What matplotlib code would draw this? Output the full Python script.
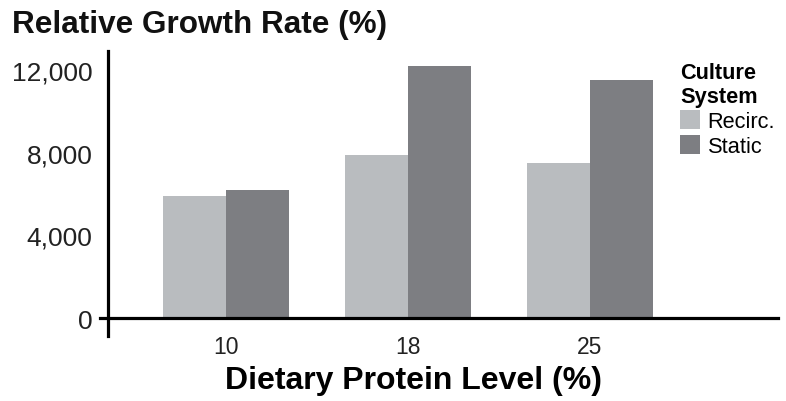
"""
Relative growth rate by dietary protein level and culture system.
"""

import matplotlib
matplotlib.use('Agg')
import matplotlib.pyplot as plt
from matplotlib.ticker import FuncFormatter

protein_levels = ['10', '18', '25']
recirc_values = [5900, 7900, 7500]
static_values = [6200, 12200, 11500]
y_ticks = [0, 4000, 8000, 12000]

plt.rcParams['font.family'] = ['Liberation Sans', 'DejaVu Sans']

fig = plt.figure(figsize=(7.86, 4.02), dpi=100)
ax = fig.add_axes([100 / 786, 0.1617, 678 / 786, 0.709])

pos = list(range(len(protein_levels)))
width = 0.347
bars_r = ax.bar([p - width / 2 for p in pos], recirc_values, width,
                color='#b9bcbf', label='Recirc.')
bars_s = ax.bar([p + width / 2 for p in pos], static_values, width,
                color='#7d7e82', label='Static')

ax.set_xlim(-0.692, 3.033)
ax.set_ylim(-870, 12920)

for side in ['top', 'right']:
    ax.spines[side].set_visible(False)
ax.spines['left'].set_position(('data', -0.648))
ax.spines['bottom'].set_position(('data', 0))
ax.spines['left'].set_linewidth(2.3)
ax.spines['bottom'].set_linewidth(2.3)

ax.set_xticks(pos)
ax.set_xticklabels(protein_levels)
ax.set_yticks(y_ticks)
ax.yaxis.set_major_formatter(FuncFormatter(lambda v, p: '{:,}'.format(int(v))))
ax.tick_params(axis='both', length=0, colors='#222222')
ax.tick_params(axis='y', pad=11, labelsize=19)
ax.tick_params(axis='x', pad=12, labelsize=16.5)

ax.set_xlabel('Dietary Protein Level (%)', fontsize=23, fontweight='bold',
              x=0.462, labelpad=5)

fig.text(12 / 786, 1 - 33 / 402, 'Relative Growth Rate (%)', fontsize=22.7,
         fontweight='bold', ha='left', va='baseline', color='#111111')

leg = ax.legend(handles=[bars_r, bars_s], title='Culture\nSystem',
                loc='upper left', bbox_to_anchor=(680 / 786, 1 - 63 / 402),
                bbox_transform=fig.transFigure, frameon=False, fontsize=15.7,
                title_fontproperties={'weight': 'bold', 'size': 15.7},
                alignment='left', handlelength=0.92, handleheight=0.92,
                handletextpad=0.35, labelspacing=0.15, borderpad=0,
                borderaxespad=0)

fig.savefig('out.png', dpi=100)
